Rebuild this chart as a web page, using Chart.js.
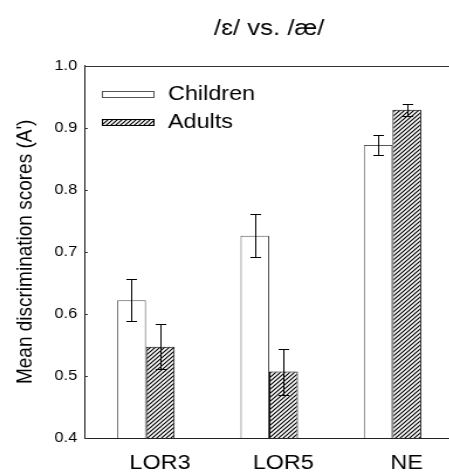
<!DOCTYPE html>
<html>
<head>
<meta charset="utf-8">
<script src="https://cdn.jsdelivr.net/npm/chart.js@4"></script>
<style>
  html, body { margin: 0; padding: 0; background: #fff; overflow: hidden; }
  #wrap { width: 449px; height: 473px; overflow: hidden; position: relative; }
  canvas { display: block; }
</style>
</head>
<body>
<div id="wrap"><canvas id="c" width="393" height="473" style="width:460px;height:473px;"></canvas></div>
<script>
const categories = ["LOR3", "LOR5", "NE"];
const seriesNames = ["Children", "Adults"];
const childrenMeans = [0.622, 0.726, 0.872];
const childrenErrors = [0.034, 0.035, 0.016];
const adultsMeans = [0.547, 0.507, 0.929];
const adultsErrors = [0.036, 0.037, 0.0095];
const yTicks = [0.4, 0.5, 0.6, 0.7, 0.8, 0.9, 1.0];
const titleText = "/\u025B/ vs. /\u00E6/";
const yTitle = "Mean discrimination scores (A')";

const FONT = "Arial, 'Liberation Sans', sans-serif";

function makeHatch() {
  const p = document.createElement('canvas');
  p.width = 4; p.height = 4;
  const g = p.getContext('2d');
  g.fillStyle = '#fff';
  g.fillRect(0, 0, 4, 4);
  g.strokeStyle = '#000';
  g.lineWidth = 1.2;
  g.beginPath();
  g.moveTo(-1, 5); g.lineTo(5, -1);
  g.moveTo(-1, 1); g.lineTo(1, -1);
  g.moveTo(3, 5); g.lineTo(5, 3);
  g.stroke();
  return g.createPattern(p, 'repeat');
}
const ctx = document.getElementById('c').getContext('2d');
const hatch = makeHatch();

const errorsByDataset = [childrenErrors, adultsErrors];

const errorBarPlugin = {
  id: 'errorBars',
  afterDatasetsDraw(chart) {
    const c = chart.ctx;
    const ys = chart.scales.y;
    c.save();
    c.strokeStyle = '#000';
    c.lineWidth = 1;
    chart.data.datasets.forEach((ds, di) => {
      const meta = chart.getDatasetMeta(di);
      meta.data.forEach((el, i) => {
        const v = ds.data[i];
        const e = errorsByDataset[di][i];
        const x = Math.round(el.x) + 0.5;
        const yT = Math.round(ys.getPixelForValue(v + e)) + 0.5;
        const yB = Math.round(ys.getPixelForValue(v - e)) + 0.5;
        const hw = 4.5;
        c.beginPath();
        c.moveTo(x, yT); c.lineTo(x, yB);
        c.moveTo(x - hw, yT); c.lineTo(x + hw, yT);
        c.moveTo(x - hw, yB); c.lineTo(x + hw, yB);
        c.stroke();
      });
    });
    c.restore();
  }
};

const framePlugin = {
  id: 'frame',
  afterDraw(chart) {
    const c = chart.ctx;
    const a = chart.chartArea;
    const ys = chart.scales.y;
    c.save();
    c.strokeStyle = '#333';
    c.lineWidth = 1;
    // top frame line
    c.beginPath();
    c.moveTo(a.left, Math.round(a.top) + 0.5);
    c.lineTo(a.right + 10, Math.round(a.top) + 0.5);
    c.stroke();
    // inward ticks on y axis
    c.beginPath();
    ys.ticks.forEach(t => {
      const y = Math.round(ys.getPixelForValue(t.value)) + 0.5;
      c.moveTo(a.left, y); c.lineTo(a.left + 3, y);
    });
    c.stroke();
    // legend
    const lx = Math.round(a.left + 15) + 0.5, lw = 44;
    const rows = [
      { y: Math.round(a.top + 25) + 0.5 },
      { y: Math.round(a.top + 53) + 0.5 }
    ];
    c.font = "20px " + FONT;
    c.textBaseline = 'middle';
    c.textAlign = 'left';
    chart.data.datasets.forEach((ds, i) => {
      const r = rows[i];
      c.fillStyle = ds.backgroundColor;
      c.fillRect(lx, r.y, lw, 6);
      c.strokeStyle = ds.borderColor;
      c.strokeRect(lx, r.y, lw, 6);
      c.fillStyle = '#000';
      c.fillText(ds.label, lx + lw + 12, r.y + 3);
    });
    // y-axis title
    c.translate(21.5, (a.top + a.bottom) / 2);
    c.rotate(-Math.PI / 2);
    c.font = "19px " + FONT;
    c.textAlign = 'center';
    c.textBaseline = 'middle';
    c.fillStyle = '#000';
    c.fillText(yTitle, 0, 0);
    c.restore();
  }
};

new Chart(ctx, {
  type: 'bar',
  data: {
    labels: categories,
    datasets: [
      { label: seriesNames[0], data: childrenMeans, backgroundColor: '#fff', borderColor: '#555', borderWidth: 1 },
      { label: seriesNames[1], data: adultsMeans, backgroundColor: hatch, borderColor: '#000', borderWidth: 1 }
    ]
  },
  options: {
    responsive: false,
    animation: false,
    devicePixelRatio: 1,
    layout: { padding: { left: 0, right: 5, top: 0, bottom: 0 } },
    categoryPercentage: 0.466,
    barPercentage: 1.0,
    plugins: {
      legend: { display: false },
      tooltip: { enabled: false },
      title: {
        display: true,
        text: titleText,
        fullSize: false,
        color: '#000',
        font: { family: FONT, size: 22, weight: 'normal' },
        padding: { top: 15.8, bottom: 23.5 }
      }
    },
    scales: {
      x: {
        grid: { display: false, drawTicks: false },
        border: { display: true, color: '#222', width: 1 },
        ticks: { color: '#000', font: { family: FONT, size: 20 }, padding: 13, labelOffset: 12 },
        afterFit(s) { s.height = 35; }
      },
      y: {
        min: 0.4,
        max: 1.0,
        afterBuildTicks(s) { s.ticks = yTicks.map(v => ({ value: v })); },
        grid: { display: false, drawTicks: false },
        border: { display: true, color: '#222', width: 1 },
        ticks: {
          color: '#000',
          font: { family: FONT, size: 14 },
          padding: 6,
          callback: v => Number(v).toFixed(1)
        },
        title: { display: false },
        afterFit(s) { s.width = 72; }
      }
    }
  },
  plugins: [errorBarPlugin, framePlugin]
});
</script>
</body>
</html>
